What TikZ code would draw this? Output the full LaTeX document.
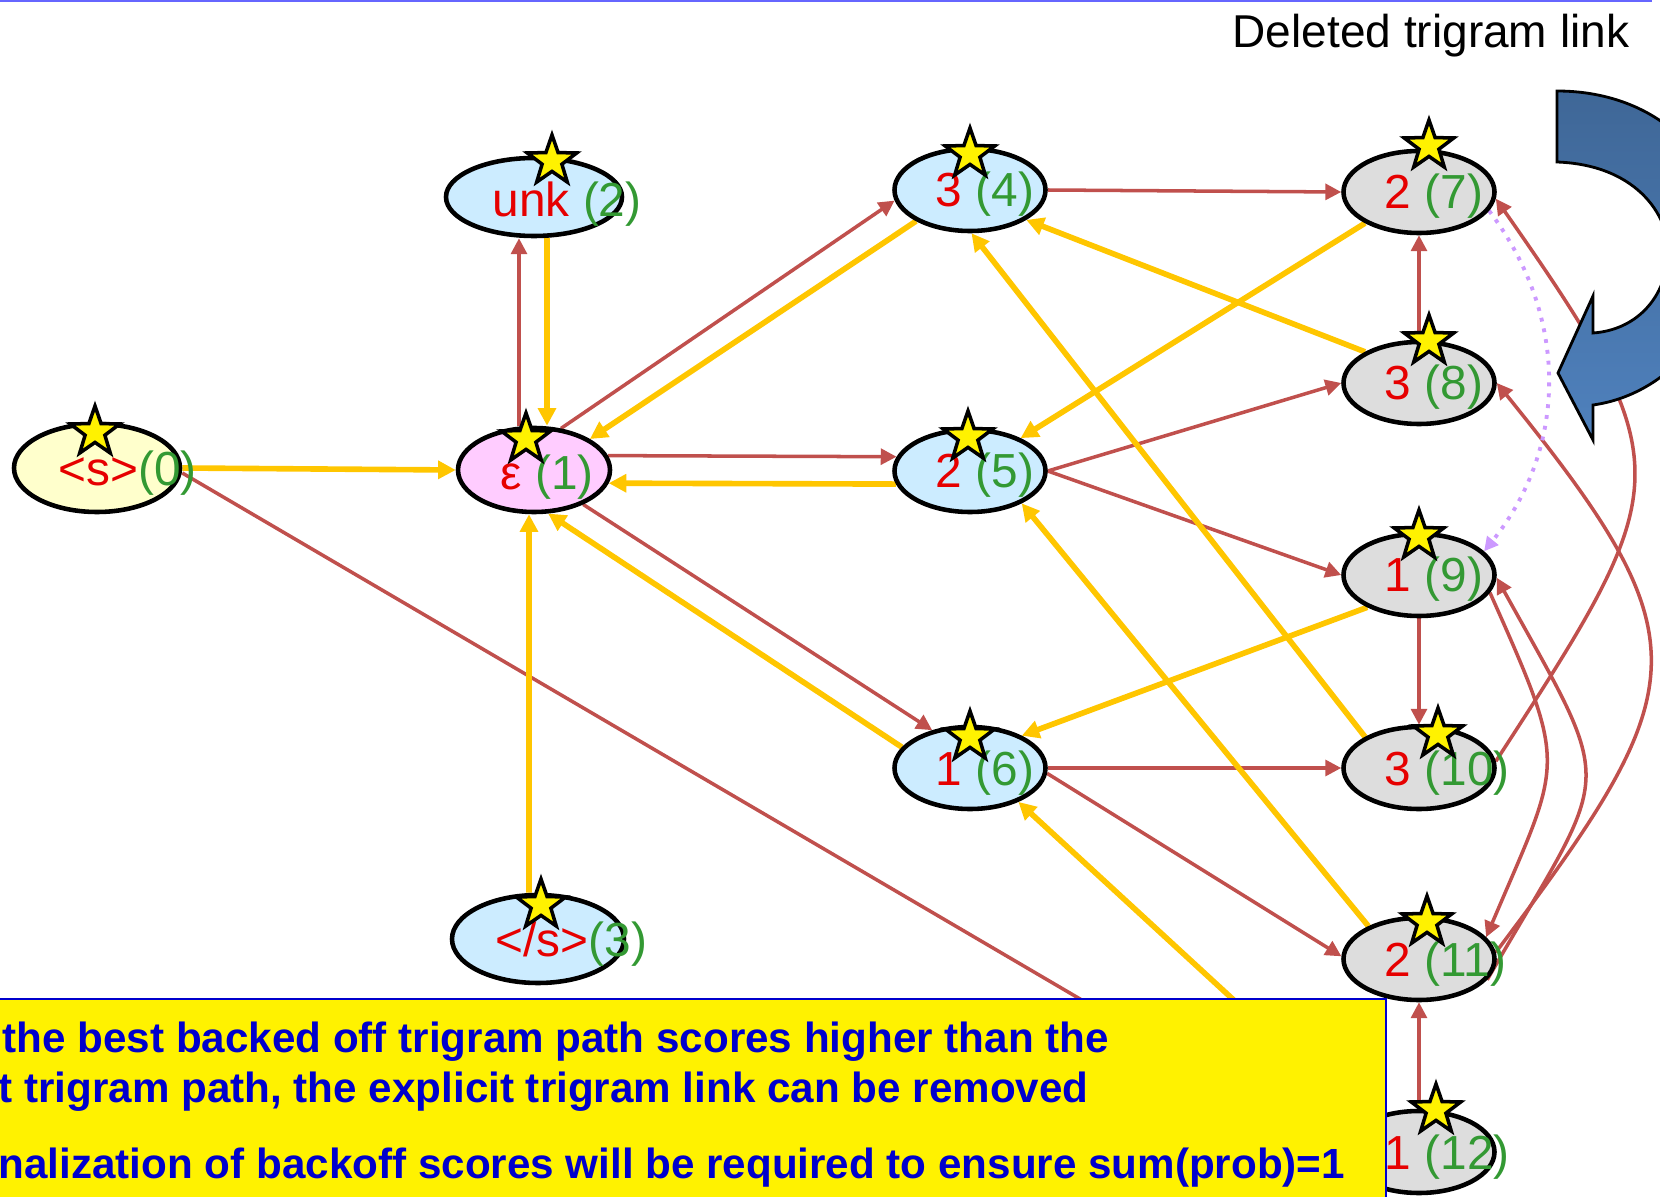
\documentclass[tikz,border=0pt]{standalone}
\usepackage{fontspec}
\setmainfont{Liberation Sans}
\usetikzlibrary{shapes.geometric, arrows.meta, positioning, backgrounds}
\definecolor{SymRed}{HTML}{E60000}
\definecolor{IdGreen}{HTML}{339933}
\definecolor{StartFill}{HTML}{FFFFCC}
\definecolor{EpsFill}{HTML}{FFCCFF}
\definecolor{UniFill}{HTML}{CCECFF}
\definecolor{TriFill}{HTML}{DDDDDD}
\definecolor{LinkRed}{HTML}{C0504D}
\definecolor{BackGold}{HTML}{FFC600}
\definecolor{DelViolet}{HTML}{CC99FF}
\definecolor{NoteBlue}{HTML}{0000CC}
\definecolor{RuleBlue}{HTML}{6666FF}
\definecolor{ArrowDark}{HTML}{3F6797}
\definecolor{ArrowLight}{HTML}{4F81BD}
\newcommand{\wsym}[1]{\textcolor{SymRed}{#1}}
\newcommand{\wid}[1]{\textcolor{IdGreen}{(#1)}}

\begin{document}
\begin{tikzpicture}[
        x=0.1mm, y=0.1mm,
        state/.style={ellipse, draw=black, line width=1.3pt, fill=TriFill, inner sep=0pt, minimum width=15.1mm, minimum height=8.2mm},
        ustate/.style={state, fill=UniFill},
        lbl/.style={anchor=base west, inner sep=0pt, font=\fontsize{13.6}{15}\selectfont},
        star5/.style={star, star points=5, star point ratio=2.5, draw=black, fill=yellow, line width=1pt, inner sep=0pt, minimum size=5.2mm},
        rarr/.style={-{Triangle[length=4.5pt, width=4.5pt]}, line width=1pt, LinkRed},
        yarr/.style={-{Triangle[length=5pt, width=5pt]}, line width=1.6pt, BackGold},
        darr/.style={-{Triangle[length=4pt, width=4pt]}, line width=1.1pt, dotted, DelViolet},
        notebox/.style={rectangle, draw=NoteBlue, fill=yellow, line width=0.7pt, inner sep=0pt, minimum width=139mm, minimum height=21mm, anchor=north west},
        notetxt/.style={anchor=base west, inner sep=0pt, text=NoteBlue, font=\fontsize{12}{14}\selectfont\bfseries}
      ]
        \useasboundingbox (0,0) rectangle (1660,-1197);
        \draw[RuleBlue, line width=0.6pt] (0,-1) -- (1652,-1);

        % states
        \node[state, fill=StartFill, minimum width=16.6mm, minimum height=8.8mm] (s0) at (97,-468) {};
        \node[state, fill=EpsFill, minimum width=15.2mm, minimum height=8.4mm] (s1) at (534,-470) {};
        \node[ustate, minimum width=17.6mm, minimum height=7.8mm] (s2) at (534,-197) {};
        \node[ustate, minimum width=17.2mm, minimum height=8.8mm] (s3) at (538,-939) {};
        \node[ustate] (s4) at (970,-190) {};
        \node[ustate] (s5) at (970,-471) {};
        \node[ustate] (s6) at (970,-768) {};
        \node[state] (s7) at (1419,-192) {};
        \node[state] (s8) at (1419,-383) {};
        \node[state] (s9) at (1419,-575) {};
        \node[state] (s10) at (1419,-768) {};
        \node[state] (s11) at (1419,-959) {};
        \node[state] (s12) at (1419,-1152) {};

        % labels
        \node[lbl] (t0) at ([shift={(-39,-17)}]s0.center) {\wsym{<s>}\wid{0}};
        \node[lbl] (t1) at ([shift={(-34,-20)}]s1.center) {\wsym{ε} \wid{1}};
        \node[lbl] (t2) at ([shift={(-42,-20)}]s2.center) {\wsym{unk} \wid{2}};
        \node[lbl] (t3) at ([shift={(-43,-17)}]s3.center) {\wsym{</s>}\wid{3}};
        \node[lbl] (t4) at ([shift={(-35,-17)}]s4.center) {\wsym{3} \wid{4}};
        \node[lbl] (t5) at ([shift={(-35,-17)}]s5.center) {\wsym{2} \wid{5}};
        \node[lbl] (t6) at ([shift={(-35,-17)}]s6.center) {\wsym{1} \wid{6}};
        \node[lbl] (t7) at ([shift={(-35,-17)}]s7.center) {\wsym{2} \wid{7}};
        \node[lbl] (t8) at ([shift={(-35,-17)}]s8.center) {\wsym{3} \wid{8}};
        \node[lbl] (t9) at ([shift={(-35,-17)}]s9.center) {\wsym{1} \wid{9}};
        \node[lbl] (t10) at ([shift={(-35,-17)}]s10.center) {\wsym{3} \wid{10}};
        \node[lbl] (t11) at ([shift={(-35,-17)}]s11.center) {\wsym{2} \wid{11}};
        \node[lbl] (t12) at ([shift={(-35,-17)}]s12.center) {\wsym{1} \wid{12}};

        % stars
        \node[star5] (k0) at ([shift={(-2,36)}]s0.center) {};
        \node[star5] (k1) at ([shift={(-8,31)}]s1.center) {};
        \node[star5] (k2) at ([shift={(18,36)}]s2.center) {};
        \node[star5] (k3) at ([shift={(3,34)}]s3.center) {};
        \node[star5] (k4) at ([shift={(0,36)}]s4.center) {};
        \node[star5] (k5) at ([shift={(-2,34)}]s5.center) {};
        \node[star5] (k6) at ([shift={(0,31)}]s6.center) {};
        \node[star5] (k7) at ([shift={(10,46)}]s7.center) {};
        \node[star5] (k8) at ([shift={(10,42)}]s8.center) {};
        \node[star5] (k9) at ([shift={(0,39)}]s9.center) {};
        \node[star5] (k10) at ([shift={(19,34)}]s10.center) {};
        \node[star5] (k11) at ([shift={(8,37)}]s11.center) {};
        \node[star5] (k12) at ([shift={(17,42)}]s12.center) {};

        \begin{scope}[on background layer]
          % explicit links
          \draw[rarr] ([xshift=-1.5mm]s1.north) -- ([xshift=-1.5mm]s2.south);
          \draw[rarr] ([yshift=-0.5mm]s0.east) -- (s12.west);
          \draw[rarr] (s1.57) -- (s4.188);
          \draw[rarr] (s1.11) -- (s5.169);
          \draw[rarr] (s1.-35) -- (s6.135);
          \draw[rarr] (s4.east) -- (s7.west);
          \draw[rarr] (s5.east) -- (s8.west);
          \draw[rarr] (s5.east) -- (s9.west);
          \draw[rarr] (s6.east) -- (s10.west);
          \draw[rarr] (s6.-4) -- (s11.178);
          \draw[rarr] (s8.north) -- (s7.south);
          \draw[rarr] (s9.south) -- (s10.north);
          \draw[rarr] (s12.north) -- (s11.south);
          \draw[rarr] (s10.5) to[out=57, in=-55, looseness=1.5] (s7.-5);
          \draw[rarr] (s11.5) to[out=53, in=-51, looseness=1.5] (s8.0);
          \draw[rarr] (s9.-14) to[out=-66, in=67, looseness=1.45] (s11.18);
          \draw[rarr] (s11.-17) to[out=60, in=-61, looseness=1.6] (s9.-2);
          % backoff links
          \draw[yarr] ([xshift=1.3mm]s2.south) -- ([xshift=1.3mm]s1.north);
          \draw[yarr] (s0.east) -- (s1.west);
          \draw[yarr] (s4.210) -- (s1.29);
          \draw[yarr] (s5.190) -- (s1.-10);
          \draw[yarr] (s6.163) -- (s1.-72);
          \draw[yarr] ([xshift=-0.9mm]s3.north) -- ([xshift=-0.5mm]s1.south);
          \draw[yarr] (s7.210) -- (s5.33);
          \draw[yarr] (s8.150) -- (s4.-28);
          \draw[yarr] (s10.150) -- (s4.-88);
          \draw[yarr] (s11.147) -- (s5.-32);
          \draw[yarr] (s9.212) -- (s6.32);
          \draw[yarr] (s12.150) -- (s6.-35);
          % deleted link
          \draw[darr] (s7.-15) to[bend left=38] (s9.20);
        \end{scope}

        % curved arrow
        \shadedraw[top color=ArrowDark, bottom color=ArrowLight, draw=black, line width=0.8pt]
          (1557,-91) -- (1557,-162) .. controls (1640,-165) and (1672,-220) .. (1668,-258)
          .. controls (1664,-300) and (1635,-330) .. (1593,-333) -- (1593,-296) -- (1558,-373)
          -- (1593,-440) -- (1593,-405) .. controls (1665,-395) and (1725,-330) .. (1725,-250)
          .. controls (1725,-150) and (1650,-91) .. (1557,-91) -- cycle;
        \node[anchor=base west, inner sep=0pt, font=\fontsize{13.1}{15}\selectfont] (deltitle) at (1232,-48) {Deleted trigram link};

        % note
        \node[notebox] (note) at (-5,-998) {};
        \node[notetxt] (ln1) at (2,-1052) {the best backed off trigram path scores higher than the};
        \node[notetxt] (ln2) at (-2,-1102) {t trigram path, the explicit trigram link can be removed};
        \node[notetxt] (ln3) at (-2,-1178) {nalization of backoff scores will be required to ensure sum(prob)=1};
      \end{tikzpicture}
\end{document}
